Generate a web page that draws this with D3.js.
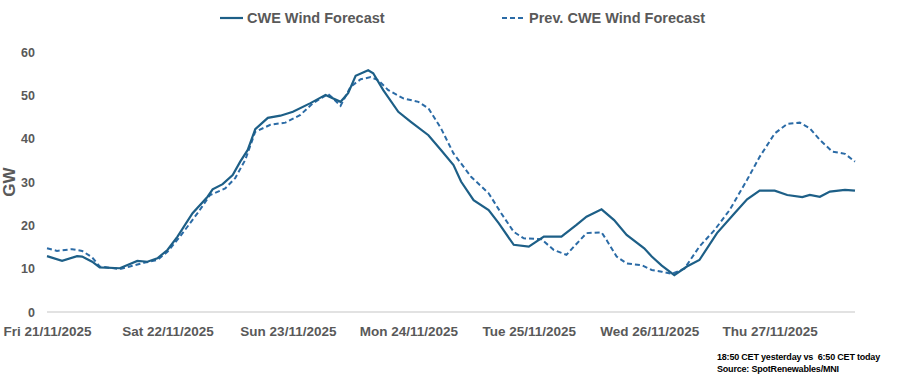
<!DOCTYPE html>
<html>
<head>
<meta charset="utf-8">
<script src="https://cdn.jsdelivr.net/npm/d3@7"></script>
<style>
  body { margin: 0; background: #fff; }
  svg text { font-family: "Liberation Sans", Arial, sans-serif; font-weight: bold; }
  svg text.note { letter-spacing: -0.2px; }
</style>
</head>
<body>
<svg id="chart" width="899" height="384"></svg>
<script>
// hours since Fri 21/11/2025 00:00
const curHours = [0, 3, 6, 7, 9, 10.5, 14.5, 18, 20, 22, 24, 26, 29, 32, 33, 35, 37, 38.5, 40, 41.5, 44, 46.5, 49, 52.5, 55.5, 58.5, 60, 61.5, 64, 65, 67, 70, 72.5, 76, 78.5, 81, 82.5, 85, 88, 90, 93, 96, 99, 102.5, 105.5, 107.5, 110.5, 113, 115.5, 119, 120.5, 122.5, 125, 127.5, 130, 133.5, 137, 139.5, 142, 145, 147.5, 150.5, 152, 154, 156, 159, 161];
const curValues = [12.9, 11.8, 12.9, 12.8, 11.6, 10.3, 10.1, 11.8, 11.6, 12.4, 14.3, 17.4, 22.8, 26.6, 28.3, 29.5, 31.6, 34.7, 37.4, 42.2, 44.8, 45.3, 46.2, 48.2, 50.1, 48.5, 50.5, 54.5, 55.8, 55.1, 51.2, 46.2, 43.9, 40.8, 37.4, 33.9, 30.1, 25.8, 23.5, 20.5, 15.5, 15.1, 17.4, 17.4, 20.1, 22.0, 23.7, 21.2, 17.8, 14.7, 12.8, 10.7, 8.5, 10.5, 12.0, 18.2, 22.8, 26.0, 28.0, 28.0, 27.0, 26.5, 27.0, 26.6, 27.8, 28.2, 28.0];

const prevHours = [0, 2, 5, 7, 9, 10.5, 14.5, 16.5, 19.5, 22, 24, 26.5, 30, 32.5, 35.5, 37.5, 39.5, 41.5, 44.5, 47.5, 50.5, 53, 56, 57, 58.5, 60.5, 62.5, 64.5, 66, 68, 71, 74, 76, 78.5, 81, 84.5, 88, 90.5, 93, 95, 98.5, 101, 103.5, 105, 107.5, 110.5, 111.5, 113.5, 115.5, 118.5, 120.5, 122.5, 124.5, 127, 130, 133, 136, 139.5, 142, 145, 147.5, 150, 152, 154, 156.5, 159, 161];
const prevValues = [14.7, 14.1, 14.5, 14.1, 12.6, 10.5, 9.9, 10.5, 11.4, 12.0, 13.9, 17.4, 22.8, 27.0, 28.5, 30.9, 35.1, 41.6, 43.2, 43.7, 45.5, 48.2, 50.3, 49.3, 47.6, 52.0, 53.7, 54.2, 53.5, 51.2, 49.3, 48.5, 47.0, 42.4, 36.6, 31.2, 27.4, 22.8, 18.5, 17.0, 16.8, 14.3, 13.2, 15.1, 18.2, 18.4, 16.6, 12.8, 11.2, 10.8, 9.7, 9.3, 8.8, 10.0, 15.1, 18.9, 23.5, 30.5, 35.8, 41.2, 43.4, 43.7, 42.4, 39.7, 37.0, 36.5, 34.7];

const dayTicks = [0, 24, 48, 72, 96, 120, 144];
const dayLabels = ["Fri 21/11/2025", "Sat 22/11/2025", "Sun 23/11/2025", "Mon 24/11/2025", "Tue 25/11/2025", "Wed 26/11/2025", "Thu 27/11/2025"];
const yTicks = [0, 10, 20, 30, 40, 50, 60];
const seriesNames = ["CWE Wind Forecast", "Prev. CWE Wind Forecast"];

const solidColor = "#1d5f87";
const dashColor = "#2b6ba6";
const textColor = "#595959";

let svg = d3.select("#chart");

// scales
let x = d3.scaleLinear().domain([0, 161]).range([47, 855]);
let y = d3.scaleLinear().domain([0, 60]).range([312, 52]);

// base line
svg.append("line")
  .attr("x1", x(0)).attr("x2", x(161))
  .attr("y1", y(0)).attr("y2", y(0))
  .attr("stroke", "#d9d9d9")
  .attr("stroke-width", 1.5);

// x axis
let xAxis = svg.append("g")
  .attr("transform", "translate(0," + y(0) + ")")
  .call(d3.axisBottom(x).tickValues(dayTicks).tickSize(0).tickFormat((d, i) => dayLabels[i]));
xAxis.select(".domain").remove();
xAxis.selectAll("text")
  .attr("dy", 0)
  .attr("y", 24)
  .attr("fill", textColor)
  .style("font-size", "13.5px");

// y axis
let yAxis = svg.append("g")
  .attr("transform", "translate(35,0)")
  .call(d3.axisLeft(y).tickValues(yTicks).tickSize(0).tickPadding(0));
yAxis.select(".domain").remove();
yAxis.selectAll("text")
  .attr("fill", textColor)
  .style("font-size", "12.5px");

// y axis title
svg.append("text")
  .attr("transform", "translate(15," + y(30) + ") rotate(-90)")
  .attr("text-anchor", "middle")
  .attr("fill", textColor)
  .style("font-size", "17px")
  .text("GW");

// lines
let line = d3.line()
  .x(d => x(d[0]))
  .y(d => y(d[1]));

svg.append("path")
  .datum(prevHours.map((h, i) => [h, prevValues[i]]))
  .attr("d", line)
  .attr("fill", "none")
  .attr("stroke", dashColor)
  .attr("stroke-width", 2)
  .attr("stroke-dasharray", "5,3");

svg.append("path")
  .datum(curHours.map((h, i) => [h, curValues[i]]))
  .attr("d", line)
  .attr("fill", "none")
  .attr("stroke", solidColor)
  .attr("stroke-width", 2.2);

// legend
let legend = svg.append("g");
legend.append("line")
  .attr("x1", 220).attr("x2", 243).attr("y1", 18).attr("y2", 18)
  .attr("stroke", solidColor).attr("stroke-width", 2.2);
legend.append("text")
  .attr("x", 247).attr("y", 23)
  .attr("fill", textColor)
  .style("font-size", "14.5px")
  .text(seriesNames[0]);
legend.append("line")
  .attr("x1", 502).attr("x2", 525).attr("y1", 18).attr("y2", 18)
  .attr("stroke", dashColor).attr("stroke-width", 2)
  .attr("stroke-dasharray", "5,3");
legend.append("text")
  .attr("x", 529).attr("y", 23)
  .attr("fill", textColor)
  .style("font-size", "14.5px")
  .text(seriesNames[1]);

// footnote
svg.append("text")
  .attr("class", "note")
  .attr("x", 717).attr("y", 360)
  .attr("fill", "#000")
  .attr("xml:space", "preserve")
  .style("font-size", "9px")
  .text("18:50 CET yesterday vs  6:50 CET today");
svg.append("text")
  .attr("class", "note")
  .attr("x", 717).attr("y", 372)
  .attr("fill", "#000")
  .style("font-size", "9px")
  .text("Source: SpotRenewables/MNI");
</script>
</body>
</html>
